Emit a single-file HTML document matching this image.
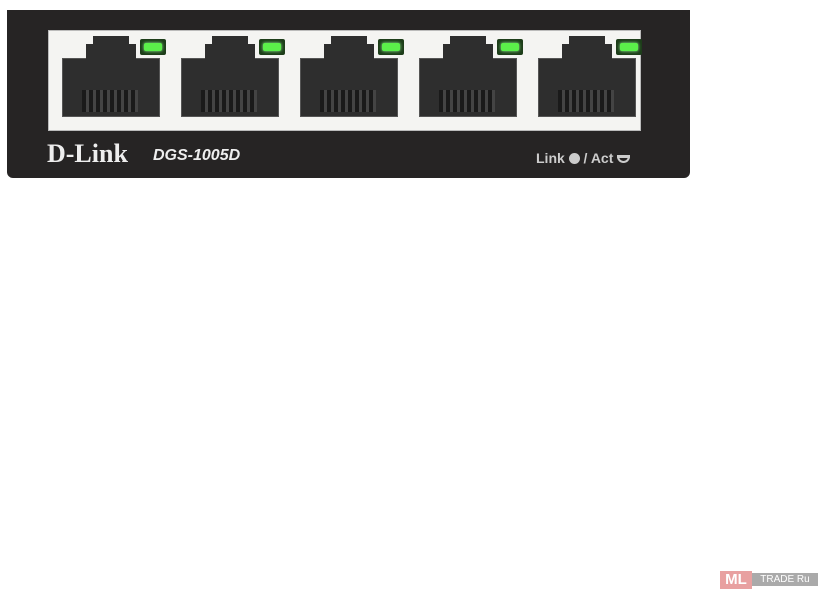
<!DOCTYPE html>
<html><head><style>
body{margin:0;width:824px;height:592px;background:#fff;position:relative;overflow:hidden;font-family:"Liberation Sans",sans-serif}
.panel{position:absolute;left:7px;top:10px;width:683px;height:168px;background:#262424;border-radius:0 0 6px 6px}
.inner{position:absolute;left:48px;top:30px;width:593px;height:101px;background:#f4f4f2;border:1px solid #bbb;box-sizing:border-box}
.port{position:absolute;top:58px;width:98px;height:59px;background:#2e2e2e;border:1px solid #555;box-sizing:border-box}
.top1{position:absolute;top:44px;width:50px;height:16px;background:#2e2e2e}
.top0{position:absolute;top:36px;width:36px;height:10px;background:#2e2e2e}
.pins{position:absolute;top:90px;height:22px;width:56px;background:repeating-linear-gradient(90deg,#1a1a1a 0 4px,#444 4px 7px)}
.led{position:absolute;top:39px;width:26px;height:16px;background:#1d3d1a;border-radius:2px}
.led::after{content:"";position:absolute;left:4px;top:4px;width:18px;height:8px;background:#5bef4a;border-radius:2px;box-shadow:0 0 3px #9f9}
.t{position:absolute;color:#eee}
</style></head><body>
<div class="panel"></div>
<div class="inner"></div>
<div class="port" style="left:62px"></div><div class="top1" style="left:86px"></div><div class="top0" style="left:93px"></div><div class="pins" style="left:82px"></div><div class="led" style="left:140px"></div>
<div class="port" style="left:181px"></div><div class="top1" style="left:205px"></div><div class="top0" style="left:212px"></div><div class="pins" style="left:201px"></div><div class="led" style="left:259px"></div>
<div class="port" style="left:300px"></div><div class="top1" style="left:324px"></div><div class="top0" style="left:331px"></div><div class="pins" style="left:320px"></div><div class="led" style="left:378px"></div>
<div class="port" style="left:419px"></div><div class="top1" style="left:443px"></div><div class="top0" style="left:450px"></div><div class="pins" style="left:439px"></div><div class="led" style="left:497px"></div>
<div class="port" style="left:538px"></div><div class="top1" style="left:562px"></div><div class="top0" style="left:569px"></div><div class="pins" style="left:558px"></div><div class="led" style="left:616px"></div>
<div class="t" style="left:47px;top:139px;font-family:'Liberation Serif',serif;font-weight:bold;font-size:26px;letter-spacing:0px">D-Link</div>
<div class="t" style="left:153px;top:147px;font-weight:bold;font-style:italic;font-size:16px">DGS-1005D</div>
<div class="t" style="left:536px;top:150px;font-weight:bold;font-size:14px;color:#ccc">Link <span style="display:inline-block;width:11px;height:11px;border-radius:50%;background:#ccc;vertical-align:-1px"></span> / Act <span style="display:inline-block;width:13px;height:8px;border:2px solid #ccc;border-radius:0 0 8px 8px;border-top-width:3px;box-sizing:border-box;vertical-align:0"></span></div>
<div style="position:absolute;left:720px;top:571px;width:32px;height:18px;background:#e8a0a0;color:#fff;font-weight:bold;font-size:15px;line-height:18px;text-align:center">ML</div>
<div style="position:absolute;left:752px;top:573px;width:66px;height:13px;background:#aaa;color:#fff;font-size:10px;line-height:13px;text-align:center">TRADE Ru</div>
</body></html>
